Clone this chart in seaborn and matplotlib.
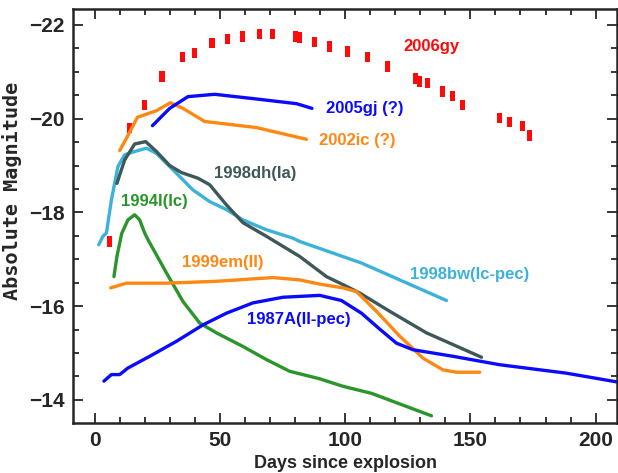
import matplotlib
matplotlib.use('Agg')
import matplotlib.pyplot as plt
import seaborn as sns
from matplotlib.ticker import MultipleLocator

# --- data (days since explosion, absolute magnitude) ---
gy06_day = [5.7, 13.7, 19.7, 26.6, 34.8, 39.7, 46.6, 52.8, 58.8, 65.7, 70.8, 80.0, 81.5,
            87.7, 93.7, 100.8, 108.8, 116.8, 128.0, 129.7, 132.8, 138.8, 142.8, 146.8,
            161.7, 165.7, 170.8, 173.7]
gy06_mag = [-17.38, -19.80, -20.29, -20.90, -21.31, -21.40, -21.61, -21.70, -21.75, -21.81,
            -21.81, -21.75, -21.73, -21.64, -21.54, -21.43, -21.32, -21.11, -20.86, -20.79,
            -20.76, -20.58, -20.49, -20.29, -20.01, -19.93, -19.85, -19.64]

gj05_day = [22.8, 29.7, 37.0, 47.7, 64.4, 80.4, 86.6]
gj05_mag = [-19.85, -20.22, -20.47, -20.52, -20.42, -20.32, -20.22]

ic02_day = [9.7, 12.8, 16.8, 24.4, 30.0, 35.0, 43.7, 64.4, 84.4]
ic02_mag = [-19.32, -19.62, -20.03, -20.17, -20.34, -20.22, -19.94, -19.81, -19.56]

dh98_day = [8.6, 11.7, 15.7, 20.1, 24.4, 29.7, 34.4, 41.0, 45.7, 52.4, 59.0, 68.4, 81.7,
            92.4, 99.0, 105.7, 117.7, 132.4, 143.0, 154.4]
dh98_mag = [-18.62, -19.12, -19.46, -19.51, -19.30, -19.00, -18.85, -18.73, -18.59, -18.16,
            -17.78, -17.49, -17.06, -16.63, -16.46, -16.28, -15.89, -15.43, -15.18, -14.91]

bw98_day = [1.3, 3.0, 4.4, 6.4, 9.0, 11.7, 15.7, 20.4, 24.4, 31.0, 39.0, 45.7, 52.4, 59.0,
            68.4, 79.0, 81.7, 106.4, 140.4]
bw98_mag = [-17.31, -17.49, -17.56, -18.27, -18.98, -19.23, -19.30, -19.37, -19.26, -18.91,
            -18.48, -18.23, -18.06, -17.84, -17.63, -17.45, -17.38, -16.92, -16.12]

i94_day = [7.4, 8.6, 10.5, 13.0, 15.7, 17.7, 19.7, 21.0, 28.4, 35.0, 41.7, 48.4, 59.0, 68.4,
           77.7, 89.7, 99.0, 110.4, 134.4]
i94_mag = [-16.63, -17.06, -17.55, -17.84, -17.95, -17.84, -17.56, -17.42, -16.71, -16.10,
           -15.64, -15.43, -15.14, -14.86, -14.61, -14.45, -14.29, -14.14, -13.66]

em99_day = [6.1, 12.4, 28.4, 48.4, 71.0, 81.7, 89.7, 99.0, 104.4, 112.4, 121.7, 131.0,
            139.0, 144.4, 153.7]
em99_mag = [-16.39, -16.49, -16.49, -16.53, -16.61, -16.56, -16.47, -16.39, -16.31, -15.89,
            -15.36, -14.89, -14.64, -14.59, -14.59]

a87_day = [3.4, 6.4, 9.7, 13.0, 21.7, 32.4, 43.0, 52.4, 63.0, 75.0, 89.7, 98.4, 106.4,
           113.7, 120.4, 127.0, 143.0, 161.7, 188.4, 210.0]
a87_mag = [-14.40, -14.54, -14.54, -14.68, -14.93, -15.25, -15.60, -15.85, -16.07, -16.19,
           -16.23, -16.12, -15.85, -15.51, -15.21, -15.07, -14.93, -14.75, -14.57, -14.37]

curves = [
    (bw98_day, bw98_mag, '#3cb2da'),
    (dh98_day, dh98_mag, '#3e5858'),
    (ic02_day, ic02_mag, '#ff8714'),
    (gj05_day, gj05_mag, '#0a0aff'),
    (i94_day, i94_mag, '#2a952a'),
    (em99_day, em99_mag, '#ff8714'),
    (a87_day, a87_mag, '#0a0aff'),
]

labels = ['2006gy', '2005gj (?)', '2002ic (?)', '1998dh(Ia)', '1994I(Ic)',
          '1999em(II)', '1987A(II-pec)', '1998bw(Ic-pec)']
label_day = [134.4, 107.7, 104.6, 63.7, 23.7, 51.0, 81.5, 149.7]
label_mag = [-21.54, -20.22, -19.53, -18.82, -18.23, -16.94, -15.71, -16.68]
label_col = ['#ff0a0a', '#0a0aff', '#ff8714', '#3e5858', '#2a952a', '#ff8714', '#0a0aff',
             '#3cb2da']

sns.set_style('ticks')
plt.rcParams['font.family'] = ['Liberation Sans', 'DejaVu Sans']

fig = plt.figure(figsize=(6.18, 4.73), dpi=100)
ax = fig.add_axes([0.118, 0.106, 0.880, 0.874])

for d, m, c in curves:
    sns.lineplot(x=d, y=m, color=c, lw=2.4, sort=False, estimator=None, ax=ax)

rect = [(-0.5, -1), (0.5, -1), (0.5, 1), (-0.5, 1), (-0.5, -1)]
sns.scatterplot(x=gy06_day, y=gy06_mag, marker=rect, s=55, color='#ff0a0a',
                edgecolor='none', linewidth=0, ax=ax)

for t, x, y, c in zip(labels, label_day, label_mag, label_col):
    ax.text(x, y, t, color=c, fontsize=12, fontweight='bold', ha='center', va='center')

ax.set_xlim(-9, 208.5)
ax.set_ylim(-13.51, -22.33)
ax.xaxis.set_major_locator(MultipleLocator(50))
ax.xaxis.set_minor_locator(MultipleLocator(10))
ax.yaxis.set_major_locator(MultipleLocator(2))
ax.yaxis.set_minor_locator(MultipleLocator(0.5))
ax.tick_params(which='both', direction='in', top=True, right=True, width=1.3, pad=6)
ax.tick_params(which='major', length=7)
ax.tick_params(which='minor', length=4)
for s in ax.spines.values():
    s.set_linewidth(1.8)
for lab in ax.get_xticklabels() + ax.get_yticklabels():
    lab.set_family(['Liberation Sans Narrow', 'Liberation Sans', 'DejaVu Sans'])
    lab.set_fontweight('bold')
    lab.set_fontsize(15)

ax.set_xlabel('Days since explosion', fontsize=13, fontweight='bold')
ax.set_ylabel('Absolute Magnitude', fontsize=14.5, fontweight='bold',
              family=['DejaVu Sans Mono'])
ax.xaxis.set_label_coords(0.501, -0.078)
ax.yaxis.set_label_coords(-0.094, 0.562)

fig.savefig('out.png', dpi=100)
